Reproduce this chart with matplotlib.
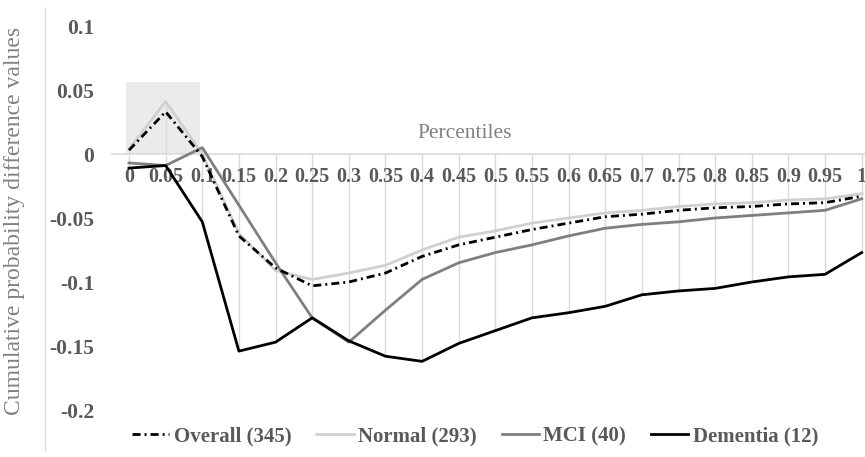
import numpy as np
import matplotlib
matplotlib.use('Agg')
import matplotlib.pyplot as plt
from matplotlib.patches import Rectangle
from matplotlib.lines import Line2D

plt.rcParams['font.family'] = ['Liberation Serif', 'DejaVu Serif']
plt.rcParams['lines.scale_dashes'] = False

percentiles = ['0', '0.05', '0.1', '0.15', '0.2', '0.25', '0.3', '0.35', '0.4', '0.45', '0.5',
               '0.55', '0.6', '0.65', '0.7', '0.75', '0.8', '0.85', '0.9', '0.95', '1']

overall = [0.003, 0.033, -0.002, -0.064, -0.089, -0.103, -0.100, -0.093, -0.080, -0.071, -0.065,
           -0.059, -0.054, -0.049, -0.047, -0.044, -0.042, -0.041, -0.039, -0.038, -0.033]
normal = [0.004, 0.041, 0.000, -0.062, -0.091, -0.098, -0.093, -0.087, -0.075, -0.065, -0.060,
          -0.054, -0.050, -0.046, -0.044, -0.041, -0.039, -0.038, -0.036, -0.035, -0.031]
mci = [-0.007, -0.009, 0.005, -0.040, -0.085, -0.128, -0.147, -0.122, -0.098, -0.085, -0.077,
       -0.071, -0.064, -0.058, -0.055, -0.053, -0.050, -0.048, -0.046, -0.044, -0.035]
dementia = [-0.011, -0.009, -0.053, -0.154, -0.147, -0.128, -0.146, -0.158, -0.162, -0.148, -0.138,
            -0.128, -0.124, -0.119, -0.110, -0.107, -0.105, -0.100, -0.096, -0.094, -0.077]

series_names = ['Overall (345)', 'Normal (293)', 'MCI (40)', 'Dementia (12)']
yticks = [0.1, 0.05, 0, -0.05, -0.1, -0.15, -0.2]
ytick_labels = ['0.1', '0.05', '0', '-0.05', '-0.1', '-0.15', '-0.2']

W, H = 865, 457
fig = plt.figure(figsize=(W / 100, H / 100), dpi=100)
ax = fig.add_axes([110.7 / W, (H - 410) / H, (880 - 110.7) / W, (410 - 26) / H])

x = np.arange(len(percentiles))
grid_c = '#d9d9d9'
txt_c = '#595959'

# shaded box around the first percentiles
ax.add_patch(Rectangle((-0.08, 0), 2.01, 0.056, facecolor='#ebebeb', edgecolor='none', zorder=0))

# high-low lines from the axis (or top point) to the lowest point
allv = np.array([overall, normal, mci, dementia])
tops = np.maximum(allv.max(axis=0), 0)
lows = allv.min(axis=0)
ax.vlines(x, lows, tops, color=grid_c, lw=1, zorder=1)
ax.axhline(0, color=grid_c, lw=1.2, zorder=1)

ax.plot(x, normal, color='#d0d0d0', lw=2, label=series_names[1], zorder=3)
ax.plot(x, mci, color='#7f7f7f', lw=2, label=series_names[2], zorder=4)
ax.plot(x, dementia, color='#000000', lw=2, label=series_names[3], zorder=5)
ax.plot(x, overall, color='#000000', lw=2, label=series_names[0], zorder=6,
        dashes=[5.8, 2.9, 1.4, 2.9])

ax.set_xlim(-0.5, len(percentiles) - 0.5)
ax.set_ylim(-0.2, 0.1)
ax.set_xticks([])
ax.set_yticks(yticks)
ax.set_yticklabels(ytick_labels, fontsize=15.5, fontweight='bold', color=txt_c)
ax.tick_params(axis='y', length=0, pad=12)
for s in ax.spines.values():
    s.set_visible(False)

for i, lab in enumerate(percentiles):
    ax.text(i, -0.018, lab, ha='center', va='center', fontsize=14.5, fontweight='bold', color=txt_c)

fig.text(465 / W, 1 - 133 / H, 'Percentiles', ha='center', va='center', fontsize=15.5, color='#808080')
fig.text(15 / W, 1 - 221 / H, 'Cumulative probability difference values', rotation=90,
         ha='center', va='center', fontsize=17, color='#808080')

fig.add_artist(Line2D([45 / W, 45 / W], [1 - 8 / H, 1 - 450 / H], color=grid_c, lw=1))

h, l = ax.get_legend_handles_labels()
order = [3, 0, 1, 2]
leg = fig.legend([h[k] for k in order], [l[k] for k in order], loc='center', ncol=4,
                 bbox_to_anchor=(475 / W, 1 - 436 / H), frameon=False,
                 prop={'size': 15, 'weight': 'bold'}, handlelength=1.8,
                 handletextpad=0.2, columnspacing=1.2)
for t in leg.get_texts():
    t.set_color(txt_c)

fig.savefig('out.png', dpi=100)
